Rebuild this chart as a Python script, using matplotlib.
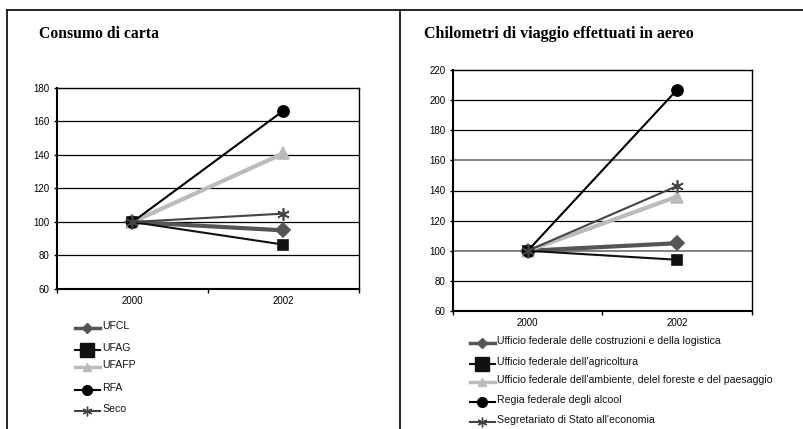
import matplotlib.pyplot as plt
from matplotlib.lines import Line2D

# dati: indice 2000 = 100
anni = ['2000', '2002']
serie_carta = ['UFCL', 'UFAG', 'UFAFP', 'RFA', 'Seco']
carta_2002 = [95, 86.5, 141, 166.5, 105]

serie_aereo = ["Ufficio federale delle costruzioni e della logistica",
               "Ufficio federale dell'agricoltura",
               "Ufficio federale dell'ambiente, delel foreste e del paesaggio",
               "Regia federale degli alcool",
               "Segretariato di Stato all'economia"]
aereo_2002 = [105, 94, 136, 207, 143]

# stile di ogni serie: colore, spessore, marcatore, dimensione
stili = [('#555555', 3.0, 'D', 7),
         ('#111111', 1.5, 's', 7.5),
         ('#bbbbbb', 3.0, '^', 8),
         ('#000000', 1.5, 'o', 8),
         ('#444444', 1.5, (6, 2, 0), 9)]
# marcatori nella legenda
leg_ms = [5, 10, 6, 7, 7]

plt.rcParams['font.family'] = ['Liberation Sans', 'DejaVu Sans']

fig = plt.figure(figsize=(8.04, 4.29), dpi=100)
W, H = 804, 429


def fx(px):
    return px / W


def fy(py):
    return 1 - py / H


# cornici dei due riquadri
fig.add_artist(Line2D([fx(7), fx(804)], [fy(10), fy(10)], color='black', lw=1.2))
fig.add_artist(Line2D([fx(7), fx(7)], [fy(10), 0], color='black', lw=1.2))
fig.add_artist(Line2D([fx(400), fx(400)], [fy(10), 0], color='black', lw=1.2))


def disegna(rect, valori, ylim, grigie, titolo, tx, fs_tit, nomi, leg_y, leg_x):
    ax = fig.add_axes(rect)
    x = range(len(anni))
    for v, (c, lw, m, ms) in zip(valori, stili):
        ax.plot(x, [100, v], color=c, lw=lw, marker=m, ms=ms,
                mfc=c, mec=c, mew=1.2, solid_capstyle='butt', zorder=3)
    ax.set_xlim(-0.5, 1.5)
    ax.set_ylim(*ylim)
    ax.set_yticks(range(ylim[0], ylim[1] + 1, 20))
    ax.set_xticks([0, 1])
    ax.set_xticklabels(anni)
    ax.set_xticks([-0.5, 0.5, 1.5], minor=True)
    ax.tick_params(axis='x', which='major', length=0, pad=5, labelsize=7)
    ax.tick_params(axis='x', which='minor', length=3, width=1, direction='out')
    ax.tick_params(axis='y', length=2.5, width=1, pad=3, labelsize=7)
    for g in range(ylim[0] + 20, ylim[1], 20):
        col = '#777777' if g in grigie else 'black'
        ax.axhline(g, color=col, lw=1.3 if g in grigie else 0.9, zorder=1)
    for s in ['left', 'bottom']:
        ax.spines[s].set_linewidth(1.5)
    ax.spines['top'].set_linewidth(1.0)
    ax.spines['right'].set_linewidth(1.0)
    fig.text(fx(tx), fy(34), titolo, family='Liberation Serif',
             weight='bold', fontsize=fs_tit, va='center', ha='left')
    # legenda disegnata a mano
    for nome, yy, (c, lw, m, ms), lm in zip(nomi, leg_y, stili, leg_ms):
        fig.add_artist(Line2D([fx(leg_x), fx(leg_x + 25)], [fy(yy), fy(yy)],
                              color=c, lw=lw if lw < 2 else 2.5))
        fig.add_artist(Line2D([fx(leg_x + 12.5)], [fy(yy)], color=c,
                              marker=m, ms=lm, mfc=c, mec=c, mew=1, lw=0))
        fig.text(fx(leg_x + 27), fy(yy - 2), nome, fontsize=7.6,
                 va='center', ha='left', color='#111111')
    return ax


disegna([fx(57), fy(289), fx(359) - fx(57), fy(88) - fy(289)],
        carta_2002, (60, 180), [], 'Consumo di carta', 39, 11.3,
        serie_carta, [328, 350, 367, 390, 411], 75)

disegna([fx(453), fy(311), fx(752) - fx(453), fy(70) - fy(311)],
        aereo_2002, (60, 220), [100, 160],
        'Chilometri di viaggio effettuati in aereo', 424, 11.5,
        serie_aereo, [343, 364, 382, 402, 422], 470)

fig.savefig('out.png', dpi=100)
